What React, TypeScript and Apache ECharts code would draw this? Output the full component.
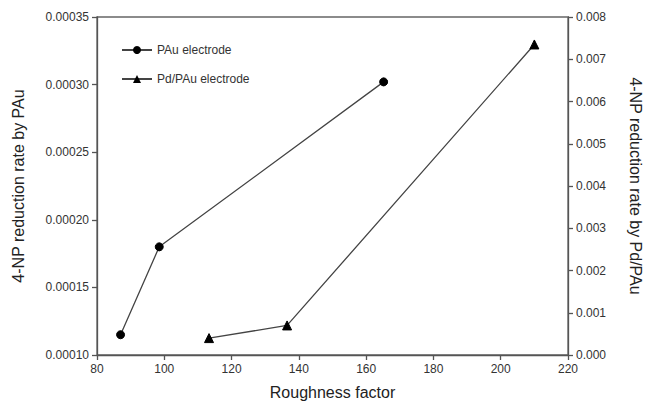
import React, { useEffect, useRef } from "react";
import * as echarts from "echarts";

const pauX = [87, 98.5, 165.2];
const pauY = [0.000115, 0.00018, 0.000302];
const pdX = [113.3, 136.5, 210];
const pdY = [0.0004, 0.0007, 0.00735];
const seriesNames = ["PAu electrode", "Pd/PAu electrode"];
const xTitle = "Roughness factor";
const yLeftTitle = "4-NP reduction rate by PAu";
const yRightTitle = "4-NP reduction rate by Pd/PAu";

export default function App() {
  const ref = useRef<HTMLDivElement>(null);
  useEffect(() => {
    if (!ref.current) return;
    const chart = echarts.init(ref.current, undefined, { renderer: "svg" });
    const font = "'Liberation Sans', Arial, sans-serif";
    const axisLine = { show: true, lineStyle: { color: "#555", width: 1.3 } };
    const axisTick = { show: true, inside: false, length: 5, lineStyle: { color: "#555", width: 1.3 } };
    const axisLabel = { color: "#333", fontSize: 12, fontFamily: font };
    const titleStyle = { color: "#222", fontSize: 16, fontFamily: font };
    chart.setOption({
      animation: false,
      backgroundColor: "#fff",
      grid: {
        left: 97,
        right: 77,
        top: 17,
        bottom: 50,
        containLabel: false,
        outerBoundsMode: "none",
        show: true,
        borderColor: "#666",
        borderWidth: 1.3,
        backgroundColor: "transparent",
      },
      legend: {
        orient: "vertical",
        left: 116,
        top: 39,
        itemWidth: 30,
        itemHeight: 10,
        itemGap: 17,
        textStyle: { color: "#333", fontSize: 12, fontFamily: font },
        data: seriesNames,
      },
      xAxis: {
        type: "value",
        min: 80,
        max: 220,
        interval: 20,
        name: xTitle,
        nameLocation: "middle",
        nameGap: 29,
        nameTextStyle: titleStyle,
        axisLine,
        axisTick,
        axisLabel,
        splitLine: { show: false },
      },
      yAxis: [
        {
          type: "value",
          min: 0.0001,
          max: 0.00035,
          interval: 0.00005,
          position: "left",
          name: yLeftTitle,
          nameLocation: "middle",
          nameGap: 71,
          nameTextStyle: titleStyle,
          axisLine,
          axisTick,
          axisLabel: { ...axisLabel, formatter: (v: number) => v.toFixed(5) },
          splitLine: { show: false },
        },
        {
          type: "value",
          min: 0,
          max: 0.008,
          interval: 0.001,
          position: "right",
          name: yRightTitle,
          nameLocation: "middle",
          nameGap: 59,
          nameRotate: -90,
          nameTextStyle: titleStyle,
          axisLine,
          axisTick,
          axisLabel: { ...axisLabel, formatter: (v: number) => v.toFixed(3) },
          splitLine: { show: false },
        },
      ],
      series: [
        {
          name: seriesNames[0],
          type: "line",
          yAxisIndex: 0,
          data: pauX.map((x, i) => [x, pauY[i]]),
          symbol: "circle",
          symbolSize: 8,
          lineStyle: { color: "#444", width: 1.3 },
          itemStyle: { color: "#000", borderColor: "#000" },
        },
        {
          name: seriesNames[1],
          type: "line",
          yAxisIndex: 1,
          data: pdX.map((x, i) => [x, pdY[i]]),
          symbol: "triangle",
          symbolSize: 9,
          lineStyle: { color: "#444", width: 1.3 },
          itemStyle: { color: "#000", borderColor: "#000" },
        },
      ],
    });
    return () => chart.dispose();
  }, []);
  return <div ref={ref} style={{ width: 645, height: 405, position: "absolute", left: 0, top: 0 }} />;
}
